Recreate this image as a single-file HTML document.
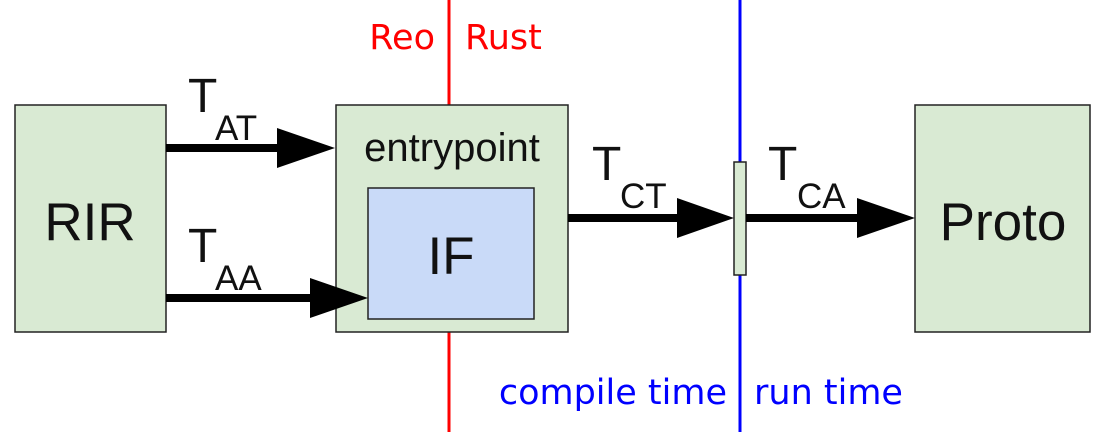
<!DOCTYPE html>
<html><head><meta charset="utf-8"><style>
html,body{margin:0;padding:0;background:#fff;width:1108px;height:432px;overflow:hidden}
svg{display:block}
.big{font-family:"Liberation Sans",sans-serif;font-size:53px;fill:#111}
.tt{font-family:"Liberation Sans",sans-serif;font-size:48px;fill:#111}
.sub{font-family:"Liberation Sans",sans-serif;font-size:35px;fill:#111}
.lbl{font-family:"DejaVu Sans","Liberation Sans",sans-serif;font-size:35px}
</style></head><body>
<svg width="1108" height="432" viewBox="0 0 1108 432">
<line x1="449" y1="0" x2="449" y2="432" stroke="#ff0000" stroke-width="3"/>
<line x1="740" y1="0" x2="740" y2="432" stroke="#0000ff" stroke-width="3"/>
<text class="lbl" x="435" y="49" text-anchor="end" fill="#ff0000">Reo</text>
<text class="lbl" x="465" y="49" fill="#ff0000">Rust</text>
<text class="lbl" x="727" y="404" text-anchor="end" fill="#0000ff">compile time</text>
<text class="lbl" x="754" y="404" fill="#0000ff">run time</text>

<rect x="15" y="105" width="151" height="227" fill="#d9ead3" stroke="#222" stroke-width="1.5"/>
<text class="big" x="90" y="240" text-anchor="middle">RIR</text>
<rect x="336" y="105" width="232" height="227" fill="#d9ead3" stroke="#222" stroke-width="1.5"/>
<text class="big" x="452" y="161" text-anchor="middle" style="font-size:40px">entrypoint</text>
<rect x="368" y="188" width="166" height="131" fill="#c9daf8" stroke="#222" stroke-width="1.5"/>
<text class="big" x="451" y="274" text-anchor="middle">IF</text>
<rect x="915" y="105" width="175" height="227" fill="#d9ead3" stroke="#222" stroke-width="1.5"/>
<text class="big" x="1003" y="240" text-anchor="middle">Proto</text>
<rect x="734" y="162" width="12" height="113" fill="#d9ead3" stroke="#222" stroke-width="1.5"/>

<g>
<line x1="166" y1="148" x2="280" y2="148" stroke="#000" stroke-width="8"/>
<polygon points="277,128 335,148 277,168" fill="#000"/>
</g>
<g>
<line x1="166" y1="298" x2="314" y2="298" stroke="#000" stroke-width="8"/>
<polygon points="310,278 368,298 310,318" fill="#000"/>
</g>
<g>
<line x1="568" y1="218" x2="680" y2="218" stroke="#000" stroke-width="8"/>
<polygon points="677,198 734,218 677,238" fill="#000"/>
</g>
<g>
<line x1="746" y1="218" x2="860" y2="218" stroke="#000" stroke-width="8"/>
<polygon points="857,198 915,218 857,238" fill="#000"/>
</g>

<text class="tt" x="188" y="112">T</text>
<text class="sub" x="215" y="140">AT</text>
<text class="tt" x="188" y="262">T</text>
<text class="sub" x="215" y="290">AA</text>
<text class="tt" x="592" y="180">T</text>
<text class="sub" x="620" y="208">CT</text>
<text class="tt" x="768" y="180">T</text>
<text class="sub" x="797" y="208">CA</text>
</svg>
</body></html>
